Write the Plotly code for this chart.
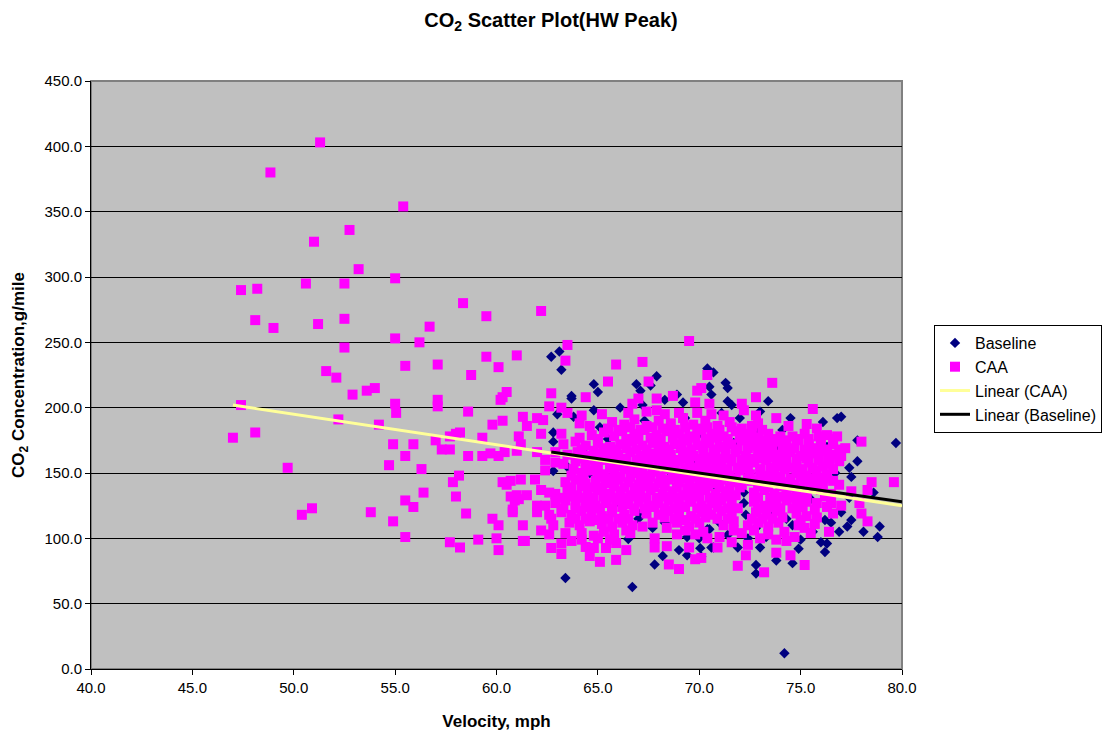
import plotly.graph_objects as go

baseline_outer = [(62.7,239),(63.1,243),(63.2,229),(64.8,218),(65,212),(63.7,209),(63.7,207),(66.9,218),(67.1,213),(67.9,224),(67.6,217),
(70.4,230),(70.7,227),(70.5,216),(70.6,210),(69.2,204),(68.9,210),(68.3,206),(67.2,202),(64.8,198),(66.1,200),(63,195),(63.8,193),
(62.8,181),(62.8,174),(62.8,151.5),(63.5,154.6),(63.4,69.6),(66.7,62.8),(67.8,80),(68.2,86.5),(69,91),(69.4,101),(66.5,99.5),(67,115),
(67.7,108),(70.5,107),(70.7,93),(70.1,86),(69.4,87),(68.3,112),(71.3,219),(71.4,215),(71.4,205),(71.6,202),(73.4,205),(73,197),(74.5,192),
(74.1,183),(76.1,189),(76.8,192),(77,193),(77.8,175),(79.7,173),(76.4,166),(77.8,159),(77.4,154),(77.5,147),(78.6,135),(77.4,131),(77,120),
(77.5,114),(77.3,109),(76.9,105),(76.5,112),(76.2,114),(78.1,105),(78.9,109),(78.8,101),(75.6,105),(76,97),(76.3,96),(76.2,89.5),(74.9,92),
(75,99),(74.3,115),(73,93),(71.9,93),(72.4,100),(71.4,102.5),(73.3,101),(73.8,83),(74.6,81),(72.8,79.6),(72.8,73),(70.4,107),(70.6,93),
(70.05,92.5),(74.2,12)]
baseline_inner = [(72.2,135),(72.2,127),(72.3,118),(73,150),(73.8,168),(76.3,170),(71.7,173),(72.9,183),(71.1,196),(65.1,185),(65.5,176),
(66.9,177.5),(69.8,157),(65.8,141),(67,119),(64.4,170),(68,168),(70,180),(72.6,160),(74.8,150),(75.5,130),(73.6,122),(71,112),(69,120),
(66,128),(64.6,150),(67.3,190),(69.3,192),(72,192),(68.6,150),(70.8,140),(74.3,170),(76.7,150),(76,140),(74.6,110),(72.8,108),(70,100)]

caa_sparse = [(47.4,290),(48.2,291),(48.1,267),(49,261),(48.85,380),(51.3,403),(51,327),(50.6,295),(51.2,264),(52.75,336),(53.2,306),(52.5,295),
(52.5,268),(52.5,246),(55.4,354),(55,299),(55,253),(55.5,232),(56.2,250),(56.7,262),(58.35,280),(59.5,270),(62.2,274),(63.5,248),(63.4,236),
(69.5,251),(51.6,228),(52.1,223),(52.9,210),(53.6,213),(54,215),(55,203),(55.05,196),(52.2,191),(54.2,187),(47,177),(47.4,202),(48.1,181),
(49.7,154),(50.4,118),(50.9,123),(53.8,120),(54.9,113),(55.5,129),(55.5,101),(55.9,124),(56.4,135),(56.3,153),(55.5,163),(54.9,172),(54.7,156),
(55.9,172),(57.1,233),(57.1,206),(57.1,201),(57,175),(57.3,168),(57.7,168),(57.7,178),(58,180),(58.2,181),(57.85,143),(58,132),(58.15,148),
(58.6,163),(58.6,197),(58.75,225),(59.5,239),(60.1,231),(60.2,206),(60.3,208),(60.5,212),(61,240),(59.8,187),(60.3,190),(59.3,177),(59.3,163),
(59.7,165),(60.1,163),(60.4,166),(57.7,97),(58.2,93),(58.5,119),(59.1,99),(59.8,115),(60.1,110),(60,100),(60.1,91),(60.3,143),(60.5,141),
(60.7,132),(61,133),(61.2,145),(61.1,130),(61.3,110),(61.3,98),(61,167),(61.1,178),(61.3,193),(61.5,186),(61.2,172),(62,166),(62.4,160),
(62.9,158),(60.7,144),(61.5,133),(60.9,129),(60.8,122),(60.8,120),(62,125),(62.4,125),(62.6,135),(62.2,137),(62.4,152),(62.6,118),(61.9,145),
(62,120),(62.7,211),(64.4,208),(65.5,220),(65.9,233),(67.2,235),(67.5,220),(67.9,207),(68.7,209),(67,207),(66.7,203),(69.9,213),(70.1,215),
(70.4,225),(69.8,204),(70.5,203),(62.6,201),(63.2,200),(63.5,196),(64.2,194),(62,192),(62.3,190.5),(62.2,180),(63.2,180),(67.9,198),
(73.6,219),(72.8,208),(72.1,203),(72.2,198),(75.6,199),(73.8,192),(75.3,187.5),(72.9,188),(78,174),(77.2,169),(79.6,143),(78.5,143),(78.3,137),
(77.5,136),(77.9,127),(78,119),(78.3,113),(77,125),(76.4,105),(75.5,104),(76.6,119),(76.5,127),(75.8,116),(75.8,127),(75.2,79.6),(73.2,74),
(71.9,79),(72.3,87),(74.5,87),(73.8,89),(70.9,93),(70.1,85),(73.8,99),(73,100),(71.7,106),(69,76.5),(68.5,80),(65.9,83.5),(65.1,82),(64.6,86.5),
(63.2,88),(62.7,92.6),(65.9,96.4),(66.4,91),(65.4,92.6),(64.4,93.4),(64.8,92.6),(63.2,96),(63.7,98),(61.4,98),(62.2,106),(62.6,103),(62.8,110),
(62.7,115),(63.4,104),(69.8,84),(69.5,93),(67.8,93),(68.4,94),(67.8,100),(70.4,100)]

caa_band_190 = [(65.7,189),(66.3,187),(66.8,191),(67.4,186),(68,190),(68.6,188),(69.2,192),(69.7,187),(70.3,190),(70.9,186),(71.5,189),(72.6,186),(64.6,186),(64.1,188),(68.3,195),(69,196),(69.9,196),(70.6,195)]
caa_band_185 = [(65.5,184),(66,183),(66.6,185),(67.1,183),(67.7,185),(68.2,184),(68.8,183),(69.3,185),(69.9,184),(70.4,185),(71,183),(71.6,185),(72.1,184),(72.6,182),(73.1,183)]
caa_band_180 = [(64.7,179),(65.3,181),(65.8,178),(66.2,182),(66.8,180),(67.3,183),(67.9,179),(68.4,182),(69,180),(69.5,178),(70.1,183),(70.6,180),(71.2,178),(71.8,182),(72.3,180),(72.9,177),(73.4,180),(74,178),(75.2,180),(75.9,178),(76.3,179),(74.6,178)]
caa_band_176 = [(64.1,177),(65,176),(66.4,176),(67,176),(67.6,177),(68.1,176),(68.7,177),(69.2,176),(69.8,177),(70.3,176),(70.9,177),(71.4,176),(72,177),(72.5,176),(73.1,175),(73.6,176),(74.2,175),(74.8,176),(75.4,176),(76,176),(76.6,176)]
caa_band_172 = [(63.3,172),(63.9,174),(64.4,171),(65,173),(65.6,170),(66.1,172),(66.7,174),(67.2,171),(67.7,173),(68.3,170),(68.8,172),(69.4,175),(69.9,171),(70.5,173),(71,170),(71.6,172),(72.1,175),(72.7,171),(73.2,173),(73.8,174),(74.3,172),(74.9,175),(75.4,172),(76,174),(76.6,172)]
caa_band_168 = [(64.2,168),(64.8,167),(65.3,169),(65.9,168),(66.4,169),(66.9,168),(67.4,168),(68,169),(68.5,168),(69.1,169),(69.6,168),(70.2,169),(70.7,168),(71.3,169),(71.9,168),(72.4,169),(73,168),(73.6,169),(74.1,168),(74.7,169),(75.2,168),(75.8,169),(76.3,168),(76.9,168)]
caa_band_165 = [(62.9,166),(63.5,164),(64,166),(64.5,163),(65,165),(65.5,167),(66,164),(66.6,166),(67.1,163),(67.6,165),(68.1,167),(68.6,164),(69.2,166),(69.7,163),(70.2,165),(70.8,167),(71.3,164),(71.8,166),(72.3,163),(72.9,165),(73.4,167),(74,164),(74.5,166),(75,163),(75.6,165),(76.1,167),(76.7,164),(77,163)]
caa_band_161 = [(64.2,161),(64.8,160),(65.2,162),(65.7,161),(66.3,161),(66.9,160),(67.3,161),(67.8,162),(68.3,161),(68.9,160),(69.4,161),(70,161),(70.5,162),(71,161),(71.5,161),(72.1,160),(72.6,161),(73.1,161),(73.6,162),(74.2,161),(74.8,161),(75.3,161),(75.9,162),(76.4,161),(76.9,161)]
caa_band_158 = [(63.3,157),(63.9,159),(64.4,156),(64.9,158),(65.4,160),(65.9,157),(66.4,159),(67,156),(67.5,158),(68,160),(68.5,157),(69,159),(69.5,156),(70.1,158),(70.6,160),(71.1,157),(71.6,159),(72.2,156),(72.7,158),(73.3,160),(73.8,157),(74.3,159),(74.8,156),(75.4,158),(75.9,160),(76.4,157),(76.9,159)]
caa_band_154 = [(63.8,153),(64.4,152),(65,154),(65.6,154),(66.2,155),(66.7,154),(67.2,153),(67.7,154),(68.2,155),(68.8,154),(69.3,153),(69.8,154),(70.3,155),(70.9,154),(71.4,153),(71.9,154),(72.4,154),(73,153),(73.5,154),(74,155),(74.5,154),(75.1,153),(75.6,154),(76.1,155),(76.6,153)]
caa_band_150 = [(64.2,150),(64.8,152),(65.3,149),(65.8,151),(66.3,153),(66.8,150),(67.3,148),(67.8,151),(68.4,153),(68.9,150),(69.4,148),(70,151),(70.5,153),(71,150),(71.5,148),(72,152),(72.5,149),(73.2,148),(73.7,151),(74.2,153),(74.8,150),(75.3,148),(75.8,152),(76.3,149)]
caa_band_146 = [(63.7,148),(64.3,147),(65,147),(65.6,146),(66.1,147),(66.6,147),(67.1,146),(67.6,147),(68.1,147),(68.7,147),(69.2,146),(69.7,147),(70.3,147),(70.8,146),(71.3,147),(71.8,146),(72.4,146),(73,146),(73.5,147),(74,147),(74.5,146),(75,147),(75.6,146),(76.2,146)]
caa_band_143 = [(63.4,143),(63.9,145),(64.4,142),(64.9,144),(65.4,142),(66,145),(66.5,143),(67,141),(67.5,144),(68,142),(68.5,145),(69,143),(69.5,141),(70,144),(70.6,142),(71.1,145),(71.6,143),(72.1,141),(72.6,144),(73.1,142),(73.7,145),(74.2,143),(74.7,141),(75.2,144),(75.8,142)]
caa_band_139 = [(63.7,139),(64.2,140),(64.7,139),(65.2,139),(65.8,140),(66.3,139),(66.8,139),(67.3,140),(67.8,139),(68.3,140),(68.9,139),(69.4,138),(69.9,139),(70.4,140),(71,139),(71.5,139),(72,139),(72.9,140),(73.4,139),(74,140),(74.5,139),(75,139),(75.5,140),(76.1,139)]
caa_band_135 = [(62.9,134),(63.5,136),(64,133),(64.5,135),(65,137),(65.6,134),(66.1,136),(66.6,133),(67.1,135),(67.6,137),(68.2,134),(68.7,136),(69.2,133),(69.7,135),(70.3,137),(70.8,134),(71.3,136),(71.8,133),(72.7,135),(73.2,137),(73.7,134),(74.3,136),(74.8,133),(75.3,135),(76,137),(76.5,134)]
caa_band_131 = [(63.3,131),(63.8,132),(64.3,131),(64.8,131),(65.3,132),(65.8,131),(66.3,131),(66.9,132),(67.4,131),(67.9,131),(68.4,132),(68.9,131),(69.5,131),(70,132),(70.5,131),(71,131),(71.5,132),(72.9,131),(73.5,131),(74,132),(74.6,131),(75.1,131)]
caa_band_127 = [(62.9,127),(63.4,129),(63.9,126),(64.4,128),(64.9,125),(65.4,127),(65.9,129),(66.5,126),(67,128),(67.5,125),(68,127),(68.5,129),(69,126),(69.6,128),(70.1,125),(70.6,127),(71.1,129),(71.6,126),(72.7,128),(73.2,125),(73.8,127),(74.3,129),(74.8,126),(75.3,128)]
caa_band_123 = [(63.3,123),(63.9,123),(64.5,124),(65.1,123),(65.7,123),(66.2,124),(66.8,123),(67.3,123),(67.8,124),(68.3,123),(68.8,123),(69.3,124),(69.9,123),(70.4,123),(70.9,124),(71.4,123),(71.9,123),(72.9,123),(73.5,124),(74,123),(74.6,123),(75.1,124)]
caa_band_120 = [(63.2,120),(63.7,118),(64.2,121),(64.7,119),(65.2,117),(65.7,120),(66.3,118),(66.8,121),(67.4,119),(68,118),(68.5,121),(69,119),(69.6,117),(70.1,120),(70.6,118),(71.1,121),(71.6,119),(72.8,120),(73.3,118),(73.8,121),(74.8,119),(75.3,117)]
caa_band_115 = [(63.9,115),(64.4,115),(65,114),(65.5,115),(66,115),(66.5,115),(68.3,116),(68.8,115),(69.3,114),(69.8,115),(70.3,116),(70.9,115),(71.4,115),(72.6,115),(73.1,115),(73.6,115),(74.1,116),(75,114)]
caa_band_112 = [(63.6,112),(64.1,110),(64.6,113),(65.2,111),(65.7,109),(66.2,112),(66.7,110),(68.9,112),(69.5,109),(70,112),(71.2,110),(71.7,113),(72.4,110),(72.9,112),(73.4,109),(73.9,112),(74.9,110)]
caa_band_103 = [(64.2,104),(64.8,102),(65.3,105),(65.8,103),(66.4,106),(69.8,103),(70.2,105),(71,101),(72.1,104),(72.7,106),(73.4,103),(74.2,105),(74.7,101)]
caa_edge_fill = [(65.2,195),(66.5,196),(67.4,197),(71.2,194),(72.8,194),(74.4,186),(75.8,184),(76.8,178),(75.9,146),(76.6,144),(76.9,141),(76.2,132),(75.7,122),(76.3,124),
(67.2,109),(67.7,112),(68.4,108),(65,100),(65.6,99),(64.2,99),(66.6,104),(68.9,103),(69.3,106),(71.6,97),(72.4,95),(74.3,98),(75.2,108),(75.7,111)]

baseline_line_x = [62.7, 80.0]
baseline_line_y = [166.0, 128.0]
caa_line_x = [47.0, 80.0]
caa_line_y = [202.0, 125.0]

x_ticks = [40, 45, 50, 55, 60, 65, 70, 75, 80]
y_ticks = [0, 50, 100, 150, 200, 250, 300, 350, 400, 450]

baseline_points = baseline_inner + baseline_outer
caa_points = (caa_band_190 + caa_band_185 + caa_band_180 + caa_band_176 + caa_band_172 + caa_band_168 + caa_band_165 + caa_band_161
              + caa_band_158 + caa_band_154 + caa_band_150 + caa_band_146 + caa_band_143 + caa_band_139 + caa_band_135 + caa_band_131
              + caa_band_127 + caa_band_123 + caa_band_120 + caa_band_115 + caa_band_112 + caa_band_103 + caa_edge_fill + caa_sparse)

FONT = "Liberation Sans, Arial, sans-serif"
fig = go.Figure()
fig.add_trace(go.Scatter(x=[p[0] for p in baseline_points], y=[p[1] for p in baseline_points], mode="markers", name="Baseline",
                         marker=dict(symbol="diamond", size=8, color="#000080")))
fig.add_trace(go.Scatter(x=[p[0] for p in caa_points], y=[p[1] for p in caa_points], mode="markers", name="CAA",
                         marker=dict(symbol="square", size=10, color="#FF00FF")))
fig.add_trace(go.Scatter(x=caa_line_x, y=caa_line_y, mode="lines", name="Linear (CAA)", line=dict(color="#FFFF99", width=3)))
fig.add_trace(go.Scatter(x=baseline_line_x, y=baseline_line_y, mode="lines", name="Linear (Baseline)", line=dict(color="#000000", width=3)))

fig.update_layout(
    width=1106, height=734, margin=dict(l=91, r=204, t=81, b=65, autoexpand=False),
    paper_bgcolor="white", plot_bgcolor="#C0C0C0",
    font=dict(family=FONT, size=15, color="black"),
    title=dict(text="<b>CO<sub>2</sub> Scatter Plot(HW Peak)</b>", x=551/1106, xanchor="center", y=1-20/734, yanchor="middle", font=dict(size=20)),
    legend=dict(x=(934-91)/811, y=(669-325)/588, yanchor="top", font=dict(size=16), bordercolor="black", borderwidth=1, bgcolor="white", itemwidth=30, traceorder="normal"),
    xaxis=dict(range=[40, 80], tickvals=x_ticks, tickformat=".1f", ticks="outside", ticklen=5, tickcolor="black", showgrid=False, zeroline=False,
               showline=True, linecolor="black", linewidth=1,
               title=dict(text="<b>Velocity, mph</b>", font=dict(size=17), standoff=20)),
    yaxis=dict(range=[0, 450], tickvals=y_ticks, tickformat=".1f", ticks="outside", ticklen=5, tickcolor="black", showgrid=True, gridcolor="#000000", gridwidth=1, zeroline=False,
               showline=True, linecolor="black", linewidth=1,
               title=dict(text="<b>CO<sub>2</sub> Concentration,g/mile</b>", font=dict(size=17), standoff=15)),
    shapes=[dict(type="rect", xref="paper", yref="paper", x0=0, x1=1, y0=0, y1=1, line=dict(color="#808080", width=2), layer="below")],
)
fig.write_html("out.html", config={"displayModeBar": False}, post_script="document.body.style.margin='0';")
